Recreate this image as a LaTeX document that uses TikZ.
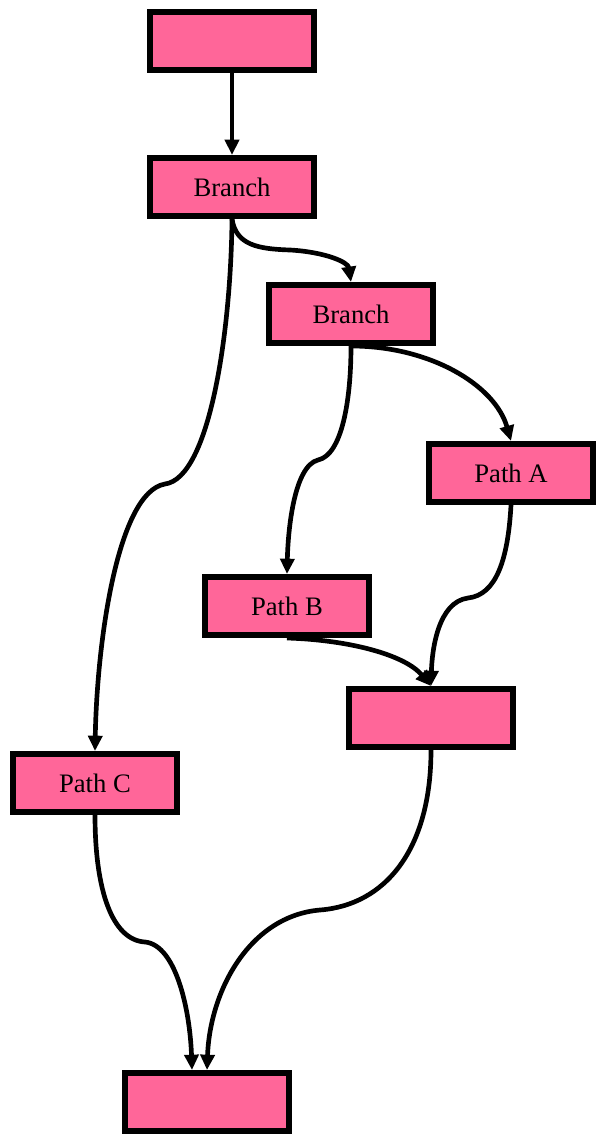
\documentclass[tikz,border=0pt]{standalone}
\usepackage{fontspec}
\setmainfont{Liberation Serif}
\usetikzlibrary{arrows.meta,calc,positioning}
\definecolor{boxpink}{HTML}{FF6699}

\begin{document}
\begin{tikzpicture}[x=0.75pt, y=-0.75pt,
    box/.style={draw, fill=boxpink, line width=4.5pt, minimum width=123pt,
        minimum height=43.5pt, inner sep=0pt, font=\fontsize{20}{24}\selectfont},
    edge/.style={line width=3.5pt, -{Triangle[length=11.5pt, width=10.5pt]}}]
    \useasboundingbox (0,0) rectangle (597,1137);

    \node [box] (top) at (232,41) {};
    \node [box] (br1) at (232,187) {Branch};
    \node [box] (br2) at (351,314) {Branch};
    \node [box] (pa) at (511,473) {Path A};
    \node [box] (pb) at (287,606) {Path B};
    \node [box] (mg) at (431,718) {};
    \node [box] (pc) at (95,783) {Path C};
    \node [box] (bot) at (207,1102) {};

    \draw [edge] (top) -- (br1);
    \draw [edge] (br1.south) .. controls (236,245) and (258,249) .. (290,250)
        .. controls (325,252) and (348,262) .. (br2.north);
    \draw [edge] (br1.south) .. controls (231,330) and (210,478) .. (165,484)
        .. controls (118,492) and (97,640) .. (pc.north);

    % second branch
    \draw [edge] (br2.south) .. controls (430,346) and (495,385) .. (pa.north);
    \draw [edge] (br2.south) .. controls (351,400) and (342,455) .. (318,460)
        .. controls (294,466) and (288,530) .. (pb.north);

    % merge
    \draw [edge] (pa.south) .. controls (508,560) and (496,595) .. (468,598)
        .. controls (438,602) and (432,650) .. (mg.north);
    \draw [edge] (pb.south) .. controls (350,640) and (405,655) .. (mg.north);
    \draw [edge] (mg.south) .. controls (431,850) and (385,905) .. (320,910)
        .. controls (250,916) and (210,990) .. (bot.north);
    \draw [edge] (pc.south) .. controls (95,890) and (112,940) .. (145,942)
        .. controls (176,945) and (190,1010) .. ($(bot.north)+(-15,0)$);
\end{tikzpicture}
\end{document}
